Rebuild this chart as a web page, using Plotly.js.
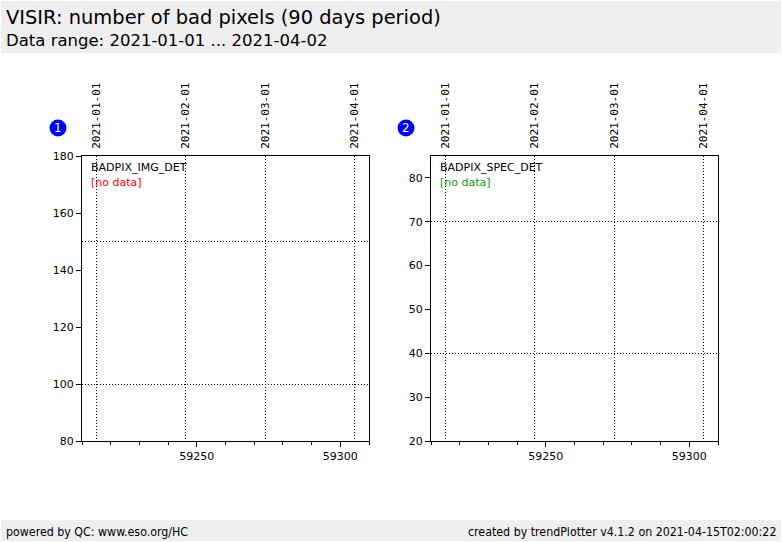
<!DOCTYPE html>
<html>
<head>
<meta charset="utf-8">
<script src="https://cdn.plot.ly/plotly-3.0.1.min.js"></script>
<style>
  html, body { margin: 0; padding: 0; background: #fff; }
  #myDiv { width: 782px; height: 542px; }
</style>
</head>
<body>
<div id="myDiv"></div>
<script>
// MJD values of the date ticks on the top axis
var dateTickMjd = [59215, 59246, 59274, 59305];
var dateTickText = ['2021-01-01', '2021-02-01', '2021-03-01', '2021-04-01'];

// the two parameters (both have no data in this period)
var panelNames = ['BADPIX_IMG_DET', 'BADPIX_SPEC_DET'];
var imgMjd = [];
var imgValues = [];
var specMjd = [];
var specValues = [];

var imgGridY = [100, 150];
var specGridY = [40, 70];

var W = 782, H = 542;
function px(x) { return x / W; }
function py(y) { return 1 - y / H; }

var axisFont = {family: 'DejaVu Sans', size: 11, color: '#000'};
var dateFont = {family: 'DejaVu Sans Mono', size: 11, color: '#000'};
var footFont = {family: 'DejaVu Sans Condensed, DejaVu Sans', size: 12.3, color: '#000'};
var xRange = [59210, 59310];
var yDomain = [py(441), py(156)];
var dots = '1px,2px';

function bottomAxis(dom, anchor) {
  return {
    domain: dom, anchor: anchor, range: xRange,
    showgrid: false, zeroline: false,
    showline: true, linecolor: '#000', linewidth: 1, mirror: true,
    ticks: 'outside', ticklen: 5, tickcolor: '#000',
    dtick: 50, tick0: 0, tickformat: 'd', tickfont: axisFont,
    minor: {dtick: 10, tick0: 0, ticks: 'outside', ticklen: 3, tickcolor: '#000', showgrid: false}
  };
}
function topAxis(over, anchor) {
  return {
    overlaying: over, anchor: anchor, side: 'top', range: xRange,
    tickmode: 'array', tickvals: dateTickMjd, ticktext: dateTickText,
    tickangle: -90, tickfont: dateFont,
    ticks: 'outside', ticklen: 4, tickcolor: 'rgba(0,0,0,0)',
    showgrid: true, gridcolor: '#000', gridwidth: 1, griddash: dots,
    zeroline: false, showline: false
  };
}
function leftAxis(anchor, range, dtick) {
  return {
    domain: yDomain, anchor: anchor, range: range,
    showgrid: false, zeroline: false,
    showline: true, linecolor: '#000', linewidth: 1, mirror: true,
    ticks: 'outside', ticklen: 5, tickcolor: '#000',
    dtick: dtick, tickfont: axisFont
  };
}
function gridAxis(over, anchor, range, vals) {
  return {
    overlaying: over, anchor: anchor, range: range,
    tickmode: 'array', tickvals: vals, showticklabels: false, ticks: '',
    showgrid: true, gridcolor: '#000', gridwidth: 1, griddash: dots,
    zeroline: false, showline: false
  };
}

var data = [
  {x: imgMjd, y: imgValues, type: 'scatter', mode: 'markers', xaxis: 'x', yaxis: 'y', showlegend: false},
  {x: imgMjd, y: imgValues, type: 'scatter', mode: 'markers', xaxis: 'x3', yaxis: 'y3', showlegend: false},
  {x: specMjd, y: specValues, type: 'scatter', mode: 'markers', xaxis: 'x2', yaxis: 'y2', showlegend: false},
  {x: specMjd, y: specValues, type: 'scatter', mode: 'markers', xaxis: 'x4', yaxis: 'y4', showlegend: false}
];

var layout = {
  width: W, height: H,
  margin: {l: 0, r: 0, t: 0, b: 0},
  paper_bgcolor: '#fff', plot_bgcolor: 'rgba(0,0,0,0)',
  showlegend: false,
  font: {family: 'DejaVu Sans', color: '#000'},
  xaxis: bottomAxis([px(82), px(369)], 'y'),
  yaxis: leftAxis('x', [80, 180], 20),
  xaxis2: bottomAxis([px(431), px(718)], 'y2'),
  yaxis2: leftAxis('x2', [20, 85], 10),
  xaxis3: topAxis('x', 'y'),
  yaxis3: gridAxis('y', 'x', [80, 180], imgGridY),
  xaxis4: topAxis('x2', 'y2'),
  yaxis4: gridAxis('y2', 'x2', [20, 85], specGridY),
  shapes: [
    {type: 'rect', xref: 'paper', yref: 'paper', x0: px(1), x1: px(781), y0: py(53), y1: py(1),
     fillcolor: '#eeeeee', line: {width: 0}, layer: 'below'},
    {type: 'rect', xref: 'paper', yref: 'paper', x0: px(1), x1: px(781), y0: py(541), y1: py(520),
     fillcolor: '#eeeeee', line: {width: 0}, layer: 'below'},
    {type: 'circle', xref: 'paper', yref: 'paper', x0: px(49.5), x1: px(66.5), y0: py(136.5), y1: py(119.5),
     fillcolor: '#0000ff', line: {width: 0}},
    {type: 'circle', xref: 'paper', yref: 'paper', x0: px(397.5), x1: px(414.5), y0: py(136.5), y1: py(119.5),
     fillcolor: '#0000ff', line: {width: 0}}
  ],
  annotations: [
    {xref: 'paper', yref: 'paper', x: px(4), y: py(18), xanchor: 'left', yanchor: 'middle', showarrow: false,
     text: 'VISIR: number of bad pixels (90 days period)', font: {family: 'DejaVu Sans', size: 19.45, color: '#000'}},
    {xref: 'paper', yref: 'paper', x: px(4), y: py(41), xanchor: 'left', yanchor: 'middle', showarrow: false,
     text: 'Data range: 2021-01-01 ... 2021-04-02', font: {family: 'DejaVu Sans', size: 16.5, color: '#000'}},
    {xref: 'paper', yref: 'paper', x: px(4), y: py(532), xanchor: 'left', yanchor: 'middle', showarrow: false,
     text: 'powered by QC: www.eso.org/HC', font: footFont},
    {xref: 'paper', yref: 'paper', x: px(778), y: py(532), xanchor: 'right', yanchor: 'middle', showarrow: false,
     text: 'created by trendPlotter v4.1.2 on 2021-04-15T02:00:22', font: footFont},
    {xref: 'paper', yref: 'paper', x: px(58), y: py(128), xanchor: 'center', yanchor: 'middle', showarrow: false,
     text: '1', font: {family: 'DejaVu Sans', size: 12, color: '#fff'}},
    {xref: 'paper', yref: 'paper', x: px(406), y: py(128), xanchor: 'center', yanchor: 'middle', showarrow: false,
     text: '2', font: {family: 'DejaVu Sans', size: 12, color: '#fff'}},
    {xref: 'x domain', yref: 'y domain', x: 0.025, y: 0.96, xanchor: 'left', yanchor: 'middle', showarrow: false,
     text: panelNames[0], font: {family: 'DejaVu Sans', size: 11, color: '#000'}},
    {xref: 'x domain', yref: 'y domain', x: 0.025, y: 0.907, xanchor: 'left', yanchor: 'middle', showarrow: false,
     text: '[no data]', font: {family: 'DejaVu Sans', size: 11, color: '#ff0000'}},
    {xref: 'x2 domain', yref: 'y2 domain', x: 0.025, y: 0.96, xanchor: 'left', yanchor: 'middle', showarrow: false,
     text: panelNames[1], font: {family: 'DejaVu Sans', size: 11, color: '#000'}},
    {xref: 'x2 domain', yref: 'y2 domain', x: 0.025, y: 0.907, xanchor: 'left', yanchor: 'middle', showarrow: false,
     text: '[no data]', font: {family: 'DejaVu Sans', size: 11, color: '#119911'}}
  ]
};

Plotly.newPlot('myDiv', data, layout, {staticPlot: true, displayModeBar: false});
</script>
</body>
</html>
